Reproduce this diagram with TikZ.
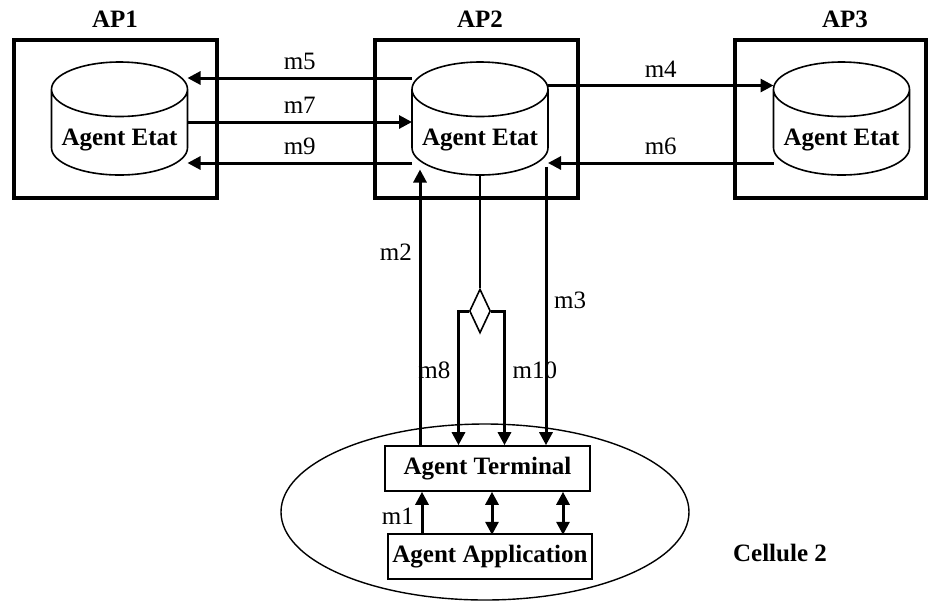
\documentclass[tikz,border=0pt]{standalone}
\usepackage{fontspec}
\setmainfont{Liberation Serif}
\usetikzlibrary{positioning, arrows.meta, shapes.geometric, calc}

\begin{document}
\begin{tikzpicture}[x=0.5pt, y=-0.5pt,
    every node/.style={font=\fontsize{12.5}{15}\selectfont},
    bold/.style={font=\fontsize{12.5}{15}\selectfont\bfseries},
    apbox/.style={draw, line width=1.7pt, minimum width=101.5pt, minimum height=79pt},
    etat/.style={draw, fill=white, line width=0.8pt, cylinder, shape border rotate=90,
        aspect=0.47, minimum width=68pt, minimum height=56.5pt, inner sep=0pt,
        text height=12.5pt, text depth=0pt, anchor=shape center, bold},
    agbox/.style={draw, line width=0.8pt, minimum height=22.5pt, inner sep=0pt, bold},
    arr/.style={line width=1.5pt, -{Triangle[length=6.5pt,width=6.5pt]}},
    darr/.style={line width=1.5pt, {Triangle[length=6.5pt,width=6.5pt]}-{Triangle[length=6.5pt,width=6.5pt]}}]
    \useasboundingbox (0,0) rectangle (928,602);

    % access points
    \node[apbox] (ap1) at (115.5,119) {};
    \node[apbox] (ap2) at (476.5,119) {};
    \node[apbox, minimum width=95.5pt] (ap3) at (830.5,119) {};
    \foreach \n/\x in {1/115, 2/480, 3/845}
        \node[bold] (t\n) at (\x,19) {AP\n};
    \node[etat] (cyl1) at (119.5,118.5) {Agent Etat};
    \node[etat] (cyl2) at (480,118.5) {Agent Etat};
    \node[etat] (cyl3) at (841.5,118.5) {Agent Etat};

    % cellule
    \node[draw, ellipse, line width=0.7pt, minimum width=204pt, minimum height=88pt] (cell) at (485,512) {};
    \node[bold] (cname) at (780,553) {Cellule 2};
    \node[agbox, minimum width=102.5pt] (term) at (487.5,468.5) {Agent Terminal};
    \node[agbox, minimum width=102pt] (app) at (490,556.5) {Agent Application};
    \node[draw, diamond, line width=0.8pt, minimum width=10.5pt, minimum height=22pt, inner sep=0pt] (dia) at (480,311) {};

    % messages between agents
    \draw[arr] ($(cyl2.shape center)+(-68,-40.5)$) -- node[above]{m5} ($(cyl1.shape center)+(68,-40.5)$);
    \draw[arr] ($(cyl1.shape center)+(68,3.5)$) -- node[above]{m7} ($(cyl2.shape center)+(-68,3.5)$);
    \draw[arr] ($(cyl2.shape center)+(-68,44.5)$) -- node[above]{m9} ($(cyl1.shape center)+(68,44.5)$);
    \draw[arr] ($(cyl2.shape center)+(68,-33)$) -- node[above]{m4} ($(cyl3.shape center)+(-68,-33)$);
    \draw[arr] ($(cyl3.shape center)+(-68,44.5)$) -- node[above]{m6} ($(cyl2.shape center)+(68,44.5)$);

    \draw[arr] ($(term.north)+(-67.5,0)$) -- node[left, pos=.7]{m2} ($(cyl2.shape center)+(-60,51)$);
    \draw[arr] ($(cyl2.shape center)+(66,48)$) -- node[right, pos=.48]{m3} ($(term.north)+(58.5,0)$);
    \draw[line width=0.7pt] (cyl2.bottom) -- (dia.north);
    \draw[arr] (dia.west) -| node[left, pos=.72]{m8} ($(term.north)+(-29,0)$);
    \draw[arr] (dia.east) -| node[right, pos=.72]{m10} ($(term.north)+(17,0)$);

    \draw[arr] ($(app.north)+(-68,0)$) -- node[left, pos=.4]{m1} ($(term.south)+(-65.5,0)$);
    \foreach \dx in {4.5,75.5}
        \draw[darr] ($(term.south)+(\dx,0)$) -- ++(0,43);
\end{tikzpicture}
\end{document}
